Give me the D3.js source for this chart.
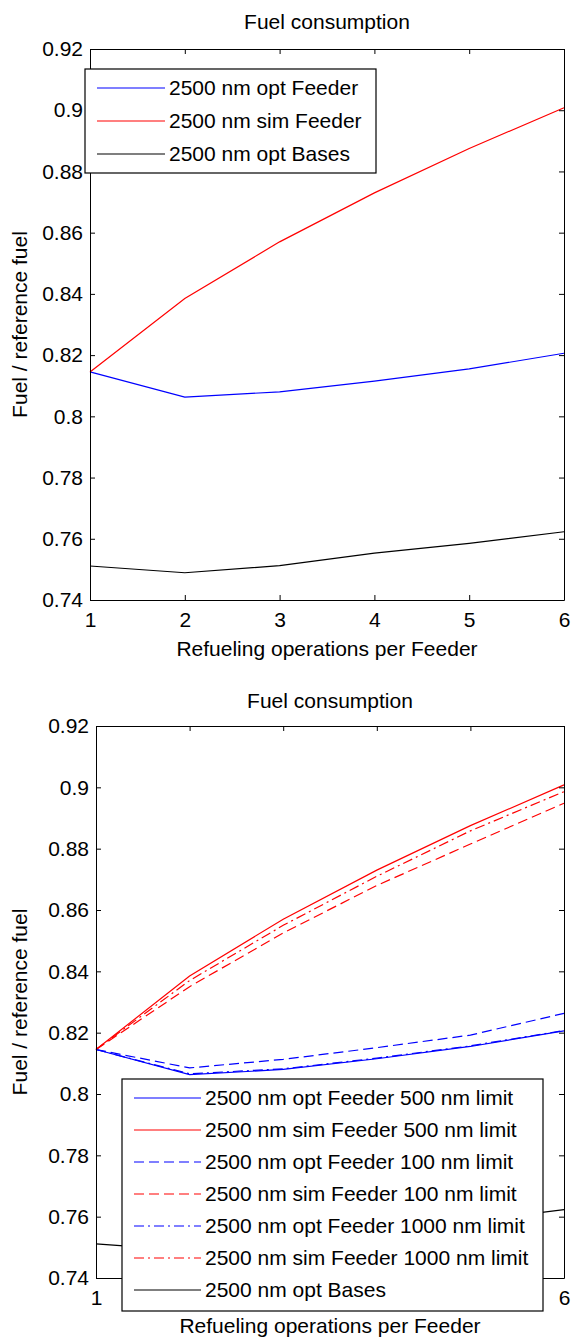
<!DOCTYPE html>
<html>
<head>
<meta charset="utf-8">
<script src="https://cdn.jsdelivr.net/npm/d3@7"></script>
<style>
  body { margin: 0; background: #fff; }
  svg { display: block; font-family: "Liberation Sans", Arial, sans-serif; }
  .axis path, .axis line { stroke: #000; }
  .axis text { fill: #000; font-size: 21px; }
</style>
</head>
<body>
<div id="chart"></div>
<script>
// x values and ticks
var refuelOps = [1, 2, 3, 4, 5, 6];
var xTicks = [1, 2, 3, 4, 5, 6];
var yTicks = [0.74, 0.76, 0.78, 0.8, 0.82, 0.84, 0.86, 0.88, 0.9, 0.92];
var yTickLabels = ["0.74", "0.76", "0.78", "0.8", "0.82", "0.84", "0.86", "0.88", "0.9", "0.92"];

// series
var optFeeder = [0.8145, 0.8063, 0.8080, 0.8115, 0.8155, 0.8206];
var simFeeder = [0.8145, 0.8385, 0.8570, 0.8730, 0.8875, 0.9008];
var optBases = [0.7511, 0.7489, 0.7512, 0.7553, 0.7585, 0.7623];

var optFeeder100 = [0.8145, 0.8085, 0.8113, 0.8151, 0.8192, 0.8263];
var simFeeder100 = [0.8145, 0.8350, 0.8525, 0.8680, 0.8815, 0.8948];
var optFeeder1000 = [0.8145, 0.8066, 0.8082, 0.8117, 0.8157, 0.8207];
var simFeeder1000 = [0.8145, 0.8370, 0.8550, 0.8710, 0.8858, 0.8986];

var svg = d3.select("#chart").append("svg")
    .attr("width", 571)
    .attr("height", 1338);

svg.append("rect").attr("width", 571).attr("height", 1338).attr("fill", "#fff");

var blue = "#0000ff", red = "#ff0000", black = "#000000";
var dashed = "10,5", dashDot = "10,4,2,4";

function drawChart(cfg) {
  var width = cfg.right - cfg.left,
      height = cfg.bottom - cfg.top;
  var lg = cfg.legend;

  var g = svg.append("g")
      .attr("transform", "translate(" + cfg.left + "," + cfg.top + ")");

  var x = d3.scaleLinear().domain([1, 6]).range([0, width]),
      y = d3.scaleLinear().domain([0.74, 0.92]).range([height, 0]);

  var line = d3.line()
      .x(function(d) { return x(d.x); })
      .y(function(d) { return y(d.y); });

  // title
  svg.append("text")
      .attr("x", cfg.left + width / 2)
      .attr("y", cfg.titleY)
      .attr("text-anchor", "middle")
      .attr("font-size", "21px")
      .text("Fuel consumption");

  // y label
  svg.append("text")
      .attr("transform", "translate(27," + (cfg.top + height / 2) + ") rotate(-90)")
      .attr("text-anchor", "middle")
      .attr("font-size", "21px")
      .text("Fuel / reference fuel");

  // x label
  svg.append("text")
      .attr("x", cfg.left + width / 2)
      .attr("y", cfg.xLabelY)
      .attr("text-anchor", "middle")
      .attr("font-size", "21px")
      .text("Refueling operations per Feeder");

  // lines
  cfg.series.forEach(function(s) {
    var pts = refuelOps.map(function(v, i) { return {x: v, y: s.values[i]}; });
    g.append("path")
      .attr("d", line(pts))
      .attr("fill", "none")
      .attr("stroke", s.color)
      .attr("stroke-width", 1.2)
      .attr("stroke-dasharray", s.dash || null);
  });

  // axes box, ticks pointing inwards
  g.append("g").attr("class", "axis")
      .call(d3.axisLeft(y).tickValues(yTicks).tickSize(-5).tickSizeOuter(0).tickPadding(7)
        .tickFormat(function(d, i) { return yTickLabels[i]; }));
  g.append("g").attr("class", "axis")
      .attr("transform", "translate(" + width + ",0)")
      .call(d3.axisRight(y).tickValues(yTicks).tickSize(-5).tickSizeOuter(0).tickFormat(""));
  g.append("g").attr("class", "axis")
      .call(d3.axisTop(x).tickValues(xTicks).tickSize(-5).tickSizeOuter(0).tickFormat(""));

  // tick labels that sit under the legend box are hidden in the original
  var hidden = function(d) {
    var px = cfg.left + x(d);
    return lg.y + lg.h > cfg.bottom && px > lg.x && px < lg.x + lg.w;
  };
  g.append("g").attr("class", "axis")
      .attr("transform", "translate(0," + height + ")")
      .call(d3.axisBottom(x).tickValues(xTicks).tickSize(-5).tickSizeOuter(0).tickPadding(12)
        .tickFormat(function(d) { return hidden(d) ? "" : d3.format("d")(d); }));

  // legend
  svg.append("rect")
      .attr("x", lg.x).attr("y", lg.y)
      .attr("width", lg.w).attr("height", lg.h)
      .attr("fill", "#fff")
      .attr("stroke", "#000")
      .attr("stroke-width", 1.2);

  cfg.series.forEach(function(s, i) {
    var ry = lg.rowY + i * lg.rowStep;
    svg.append("line")
        .attr("x1", lg.lineX1).attr("x2", lg.lineX2)
        .attr("y1", ry).attr("y2", ry)
        .attr("stroke", s.color)
        .attr("stroke-width", 1.2)
        .attr("stroke-dasharray", s.dash || null);
    svg.append("text")
        .attr("x", lg.textX)
        .attr("y", ry)
        .attr("dy", "0.35em")
        .attr("font-size", "21px")
        .text(s.name);
  });
}

drawChart({
  left: 90, right: 564, top: 49, bottom: 600,
  titleY: 29, xLabelY: 656,
  series: [
    {name: "2500 nm opt Feeder", values: optFeeder, color: blue},
    {name: "2500 nm sim Feeder", values: simFeeder, color: red},
    {name: "2500 nm opt Bases", values: optBases, color: black}
  ],
  legend: {x: 85, y: 69, w: 291, h: 104, rowY: 88, rowStep: 33, lineX1: 97, lineX2: 165, textX: 169}
});

drawChart({
  left: 96, right: 564, top: 726, bottom: 1278,
  titleY: 708, xLabelY: 1333,
  series: [
    {name: "2500 nm opt Feeder 500 nm limit", values: optFeeder, color: blue},
    {name: "2500 nm sim Feeder 500 nm limit", values: simFeeder, color: red},
    {name: "2500 nm opt Feeder 100 nm limit", values: optFeeder100, color: blue, dash: dashed},
    {name: "2500 nm sim Feeder 100 nm limit", values: simFeeder100, color: red, dash: dashed},
    {name: "2500 nm opt Feeder 1000 nm limit", values: optFeeder1000, color: blue, dash: dashDot},
    {name: "2500 nm sim Feeder 1000 nm limit", values: simFeeder1000, color: red, dash: dashDot},
    {name: "2500 nm opt Bases", values: optBases, color: black}
  ],
  legend: {x: 122, y: 1079, w: 421, h: 232, rowY: 1098, rowStep: 32, lineX1: 134, lineX2: 201, textX: 205}
});
</script>
</body>
</html>
